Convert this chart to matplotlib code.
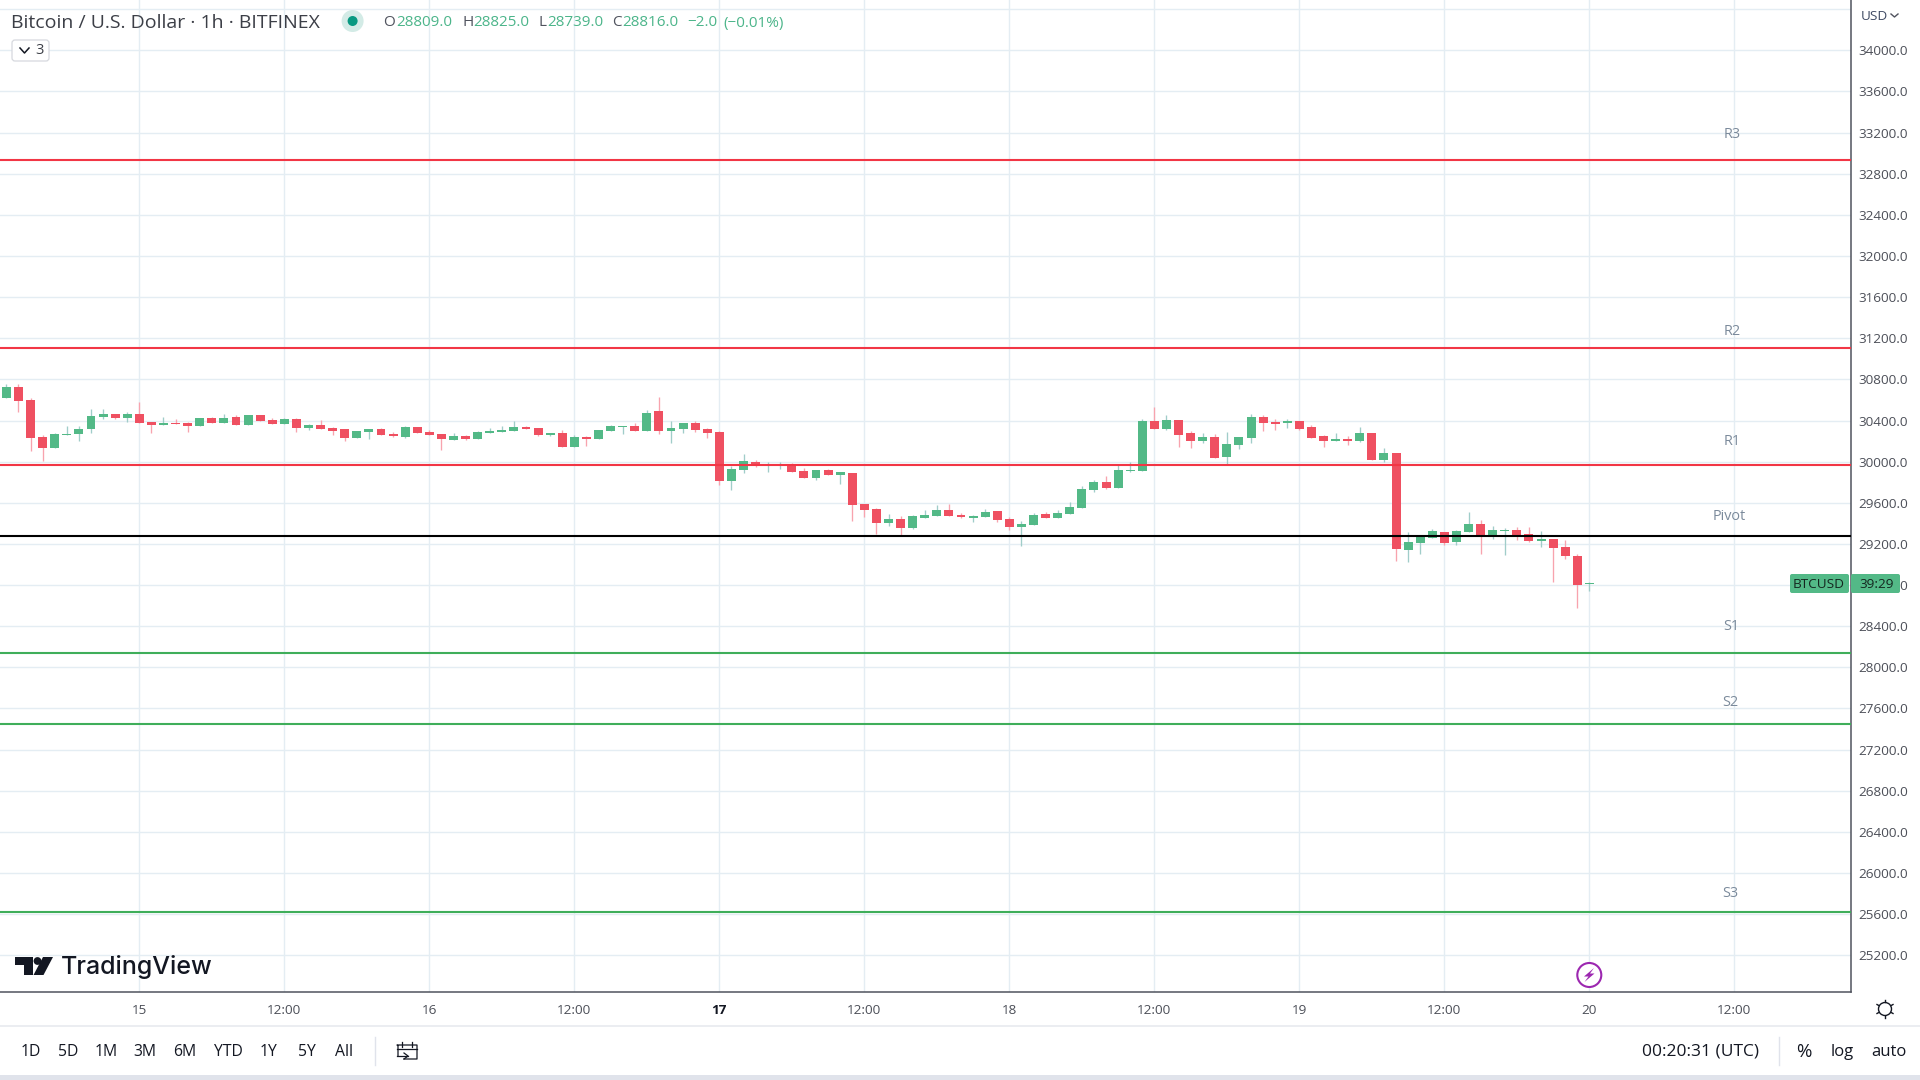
import matplotlib
matplotlib.use("Agg")
import matplotlib.pyplot as plt
from matplotlib.patches import Circle, FancyBboxPatch, Polygon, Rectangle

# ---- data ------------------------------------------------------------------
hours = list(range(-11, 121))  # hours relative to 15th 00:00 UTC
opens = [30617,30724,30598,30239,30132,30258,30268,30317,30433,30462,30423,30462,
         30384,30355,30375,30375,30346,30423,30375,30433,30355,30452,30404,30365,
         30413,30326,30355,30326,30317,30229,30287,30317,30268,30239,30336,30287,
         30268,30210,30249,30220,30278,30287,30297,30336,30326,30258,30278,30142,
         30239,30220,30297,30336,30346,30297,30491,30297,30317,30375,30317,30287,
         29813,29919,29997,29968,29968,29977,29910,29842,29919,29871,29890,29590,
         29541,29406,29444,29357,29454,29474,29532,29483,29454,29464,29522,29444,
         29367,29386,29493,29454,29493,29551,29725,29803,29745,29910,29910,30394,
         30317,30404,30278,30200,30239,30045,30162,30229,30433,30384,30375,30394,
         30336,30249,30200,30220,30200,30278,30016,30084,29144,29212,29260,29320,
         29223,29320,29398,29272,29330,29340,29301,29233,29252,29174,29086,28809]
highs = [30753,30753,30617,30258,30278,30346,30346,30510,30510,30462,30481,30578,
         30384,30433,30413,30384,30423,30433,30462,30452,30452,30452,30423,30423,
         30423,30365,30404,30336,30317,30297,30317,30326,30287,30346,30336,30307,
         30268,30278,30258,30297,30326,30346,30394,30346,30326,30278,30307,30258,
         30249,30307,30355,30346,30375,30501,30627,30394,30375,30394,30326,30297,
         29958,30074,30016,29997,29997,29987,29939,29919,29929,29900,29890,29590,
         29551,29493,29474,29483,29532,29580,29590,29503,29483,29541,29522,29464,
         29425,29503,29512,29532,29609,29764,29822,29861,29968,29997,30413,30530,
         30452,30404,30297,30278,30268,30287,30239,30462,30452,30413,30413,30394,
         30355,30258,30278,30249,30336,30278,30132,30084,29318,29280,29348,29320,
         29340,29515,29428,29379,29350,29369,29369,29330,29252,29242,29106,28825]
lows = [30617,30481,30103,30006,30132,30258,30200,30278,30413,30413,30384,30375,
        30278,30355,30365,30287,30346,30375,30375,30355,30355,30394,30365,30365,
        30287,30307,30317,30258,30200,30229,30220,30258,30239,30229,30278,30258,
        30113,30210,30210,30220,30278,30287,30297,30317,30249,30249,30142,30142,
        30152,30220,30297,30268,30297,30297,30268,30181,30278,30287,30229,29774,
        29725,29890,29948,29900,29929,29900,29842,29822,29871,29784,29425,29464,
        29299,29377,29289,29348,29454,29474,29474,29454,29415,29464,29415,29338,
        29183,29386,29454,29454,29493,29551,29706,29735,29745,29900,29910,30317,
        30307,30142,30132,30181,30036,29977,30123,30181,30297,30307,30326,30307,
        30229,30142,30200,30162,30195,30016,29997,29037,29028,29105,29260,29194,
        29194,29320,29106,29252,29096,29242,29223,29174,28833,29057,28579,28739]
closes = [30724,30588,30229,30132,30268,30268,30317,30443,30462,30423,30462,30375,
          30355,30375,30365,30346,30423,30375,30423,30355,30452,30394,30365,30413,
          30326,30355,30317,30297,30229,30297,30317,30258,30249,30336,30278,30258,
          30220,30249,30220,30287,30297,30307,30336,30317,30258,30278,30142,30239,
          30220,30307,30346,30346,30297,30472,30297,30326,30375,30307,30278,29813,
          29929,30006,29958,29977,29977,29900,29842,29919,29871,29900,29580,29532,
          29406,29444,29357,29474,29483,29532,29474,29464,29474,29512,29435,29367,
          29396,29483,29454,29503,29561,29735,29803,29745,29919,29919,30394,30317,
          30404,30258,30200,30239,30036,30171,30239,30433,30375,30365,30394,30317,
          30229,30200,30220,30200,30278,30016,30084,29154,29222,29280,29328,29213,
          29330,29398,29281,29340,29340,29291,29233,29252,29164,29086,28803,28816]

level_names = ["R3", "R2", "R1", "Pivot", "S1", "S2", "S3"]
level_prices = [32930, 31104, 29971, 29274, 28142, 27447, 25620]
level_colors = ["#f23645", "#f23645", "#f23645", "#000000", "#3fae5a", "#3fae5a", "#3fae5a"]
label_prices = [33180, 31266, 30194, 29468, 28396, 27658, 25801]
label_hours = [131.8, 131.8, 131.8, 131.6, 131.7, 131.7, 131.7]

price_ticks = list(range(25200, 34001, 400))
grid_prices = list(range(25200, 34401, 400))
time_ticks = list(range(0, 133, 12))
time_labels = ["15", "12:00", "16", "12:00", "17", "12:00", "18", "12:00", "19", "12:00", "20", "12:00"]

title_text = "Bitcoin / U.S. Dollar · 1h · BITFINEX"
legend_parts = [("O", "g", 383), ("28809.0", "v", 396), ("H", "g", 462), ("28825.0", "v", 473),
                ("L", "g", 538), ("28739.0", "v", 547), ("C", "g", 612), ("28816.0", "v", 622),
                ("−2.0", "v", 687), ("(−0.01%)", "v", 723)]
range_buttons = [("1D", 30.6), ("5D", 68), ("1M", 106), ("3M", 145), ("6M", 184.5),
                 ("YTD", 228), ("1Y", 269), ("5Y", 307), ("All", 344)]

# ---- style -----------------------------------------------------------------
UP, DOWN = "#53b987", "#ef5061"
UP_W, DOWN_W = "#a0cdc9", "#f8a3ae"
GRID = "#e4edf3"
AXIS = "#50535e"
TXT = "#4c4f58"
FONT = "Open Sans"
plt.rcParams["font.family"] = [FONT, "DejaVu Sans"]

W, H = 1920, 1080
AX_R, AX_B = 1851, 992
fig = plt.figure(figsize=(19.2, 10.8), dpi=100, facecolor="white")
ax = fig.add_axes([0, 1 - AX_B / H, AX_R / W, AX_B / H])
ax.set_xlim(-11.53, 141.65)
ax.set_ylim(24843, 34489)
for s in ("top", "left"):
    ax.spines[s].set_visible(False)
for s in ("right", "bottom"):
    ax.spines[s].set_color(AXIS)
    ax.spines[s].set_linewidth(1.1)
ax.set_xticks(time_ticks)
ax.set_xticklabels([])
ax.set_yticks(price_ticks)
ax.tick_params(length=0, labelbottom=False, labelleft=False, labelright=True, pad=5.5,
               labelcolor=TXT, labelsize=9.7)
ax.yaxis.tick_right()
ax.set_yticklabels([f"{p:.1f}" for p in price_ticks])
ax.tick_params(axis="y", length=0)

for p in grid_prices:
    ax.axhline(p, color=GRID, lw=1.0, zorder=0)
for t in time_ticks:
    ax.axvline(t, color=GRID, lw=1.0, zorder=0)

# candles
for h, o, hi, lo, c in zip(hours, opens, highs, lows, closes):
    up = c >= o
    ax.vlines(h, lo, hi, color=UP_W if up else DOWN_W, lw=0.95, zorder=2)
    ax.bar(h, abs(c - o), bottom=min(o, c), width=0.74, color=UP if up else DOWN, lw=0, zorder=3)

# levels
for name, p, col, lp, lh in zip(level_names, level_prices, level_colors, label_prices, label_hours):
    ax.axhline(p, color=col, lw=1.5, zorder=4)
    ax.text(lh, lp, name, color="#7b8a9b", fontsize=10.4, ha="center", va="center", zorder=5)

# ---- overlay in pixel space ------------------------------------------------
ov = fig.add_axes([0, 0, 1, 1], facecolor="none", zorder=10)
ov.set_xlim(0, W)
ov.set_ylim(H, 0)
ov.axis("off")

# time axis labels
for t, lab in zip(time_ticks, time_labels):
    x = 139.3 + t * 12.083
    bold = lab == "17"
    ov.text(x, 1010.2, lab, ha="center", va="center", fontsize=9.7,
            color="#131722" if bold else TXT, fontweight="bold" if bold else "normal")

# header
ov.text(11, 22.5, title_text, fontsize=14, color="#3c3f47", va="center", ha="left")
ov.add_patch(Circle((352.6, 21), 11, color="#d3ebe6", lw=0))
ov.add_patch(Circle((352.6, 21), 5, color="#089981", lw=0))
for s, kind, x in legend_parts:
    ov.text(x, 23, s, fontsize=11, va="center", ha="left", color="#50535e" if kind == "g" else "#4cb58a")
ov.add_patch(FancyBboxPatch((12, 40), 37, 21, boxstyle="round,pad=0,rounding_size=3", fc="white", ec="#d6d8de", lw=0.9))
ov.plot([20, 24.5, 29], [48, 53, 48], color="#131722", lw=1.1)
ov.text(40, 50.5, "3", fontsize=10.5, va="center", ha="center", color="#3c3f47")

# USD selector
ov.text(1874, 17, "USD", fontsize=9.7, va="center", ha="center", color="#3f4a63")
ov.plot([1891, 1894.5, 1898], [14, 17, 14], color="#50535e", lw=1)

# price tag
ov.add_patch(FancyBboxPatch((1790, 574), 59, 19, boxstyle="round,pad=0,rounding_size=2", fc=UP, ec="none"))
ov.add_patch(FancyBboxPatch((1851, 574), 49, 19, boxstyle="round,pad=0,rounding_size=2", fc=UP, ec="none"))
ov.text(1819, 584.5, "BTCUSD", fontsize=9.7, ha="center", va="center", color="#14261f")
ov.text(1877, 584.5, "39:29", fontsize=9.7, ha="center", va="center", color="#14261f")

# logo
ov.add_patch(Polygon([(15, 957), (33, 957), (33, 975), (24, 975), (24, 965), (15, 965)], color="#131722", lw=0))
ov.add_patch(Circle((37.5, 961), 3.9, color="#131722", lw=0))
ov.add_patch(Polygon([(43, 957), (53, 957), (43.5, 975), (33.5, 975)], color="#131722", lw=0))
ov.text(61, 967, "TradingView", fontsize=18, fontfamily="Inter", fontweight="medium",
        color="#131722", va="center", ha="left")

# lightning marker
ov.add_patch(Circle((1589.3, 975), 12, fc="white", ec="#9c27b0", lw=1.5))
ov.add_patch(Polygon([(1594, 968), (1584, 976.5), (1588.5, 976.5), (1584.5, 982),
                      (1594.5, 973.5), (1590, 973.5)], color="#9c27b0", lw=0))

# bottom bar
ov.plot([0, W], [1026, 1026], color="#e6e8ee", lw=1.1)
ov.add_patch(Rectangle((0, 1075), W, 5, color="#e0e3eb", lw=0))
for lab, x in range_buttons:
    ov.text(x, 1052, lab, fontsize=11.3, ha="center", va="center", color="#131722")
ov.plot([375, 375], [1037, 1065], color="#e0e3eb", lw=1)
ov.plot([1779, 1779], [1037, 1065], color="#e0e3eb", lw=1)
# calendar icon
ov.plot([398, 398, 397, 417, 417, 404], [1056, 1046, 1045, 1045, 1059, 1059], color="#131722", lw=0.9)
ov.plot([397, 417], [1049, 1049], color="#131722", lw=0.9)
ov.plot([402, 402], [1042, 1047], color="#131722", lw=0.9)
ov.plot([412, 412], [1042, 1047], color="#131722", lw=0.9)
ov.plot([397, 408], [1056, 1056], color="#131722", lw=0.9)
ov.plot([404, 408, 404], [1053, 1056, 1059], color="#131722", lw=0.9)

ov.text(1700, 1052, "00:20:31 (UTC)", fontsize=12.5, ha="center", va="center", color="#131722")
ov.text(1804, 1052, "%", fontsize=13.5, ha="center", va="center", color="#131722")
ov.text(1842, 1052, "log", fontsize=12, ha="center", va="center", color="#131722")
ov.text(1889, 1052, "auto", fontsize=12, ha="center", va="center", color="#131722")

# gear
ov.add_patch(Circle((1885, 1009), 6.5, fc="white", ec="#131722", lw=1.0))
for dx, dy in [(0, -9), (0, 9), (8, -4.5), (-8, -4.5), (8, 4.5), (-8, 4.5)]:
    ov.plot([1885 + dx * 0.8, 1885 + dx], [1009 + dy * 0.8, 1009 + dy], color="#131722", lw=1.0)

fig.savefig("out.png", dpi=100)
